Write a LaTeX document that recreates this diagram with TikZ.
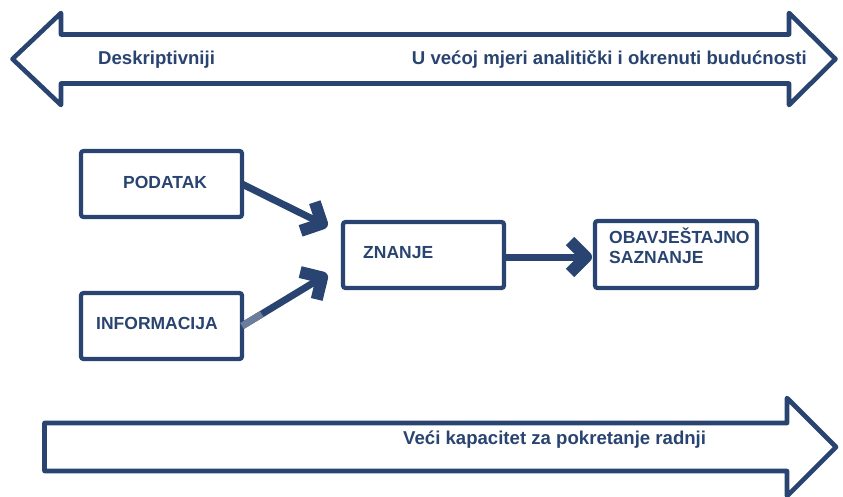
\documentclass[tikz,border=0pt]{standalone}
\usepackage{fontspec}
\setmainfont{Liberation Sans}
\usetikzlibrary{calc,decorations.markings}
\definecolor{navy}{RGB}{41,68,112}
\definecolor{paleseg}{RGB}{108,126,156}
\tikzset{
  bigarrow/.style={draw=navy,line width=4.6pt,line join=round,fill=white},
  boxnode/.style={draw=navy,line width=4.2pt,rounded corners=2.5pt,minimum width=161pt,minimum height=66pt,inner sep=0pt,outer sep=0pt},
  arrowlbl/.style={text=navy,font=\bfseries\fontsize{18.6}{21}\selectfont,inner sep=0pt},
  boxlbl/.style={text=navy,font=\bfseries\fontsize{17.5}{20}\selectfont,inner sep=0pt,align=left},
  chevron/.style={draw=navy,line width=12pt,line cap=butt,line join=round,shorten >=0pt},
  flow/.style={draw=navy,line width=7pt,shorten >=5pt,
    postaction={decorate,decoration={markings,mark=at position 1 with {\draw[chevron] (-22pt,16pt) -- (-6pt,0pt) -- (-22pt,-16pt);}}}}
}
\begin{document}
\begin{tikzpicture}[x=1pt,y=-1pt]
\useasboundingbox (0,0) rectangle (843,496);
% top double arrow
\draw[bigarrow] (12.5,59) -- (61,13) -- (61,34.5) -- (789,34.5) -- (789,13) -- (835.5,59)
  -- (789,105) -- (789,83.5) -- (61,83.5) -- (61,105) -- cycle;
\node[arrowlbl,anchor=base west] (desk) at (98,64) {Deskriptivniji};
\node[arrowlbl,anchor=base east] (anal) at (807,64) {U većoj mjeri analitički i okrenuti budućnosti};
% bottom arrow
\draw[bigarrow] (44.5,423) -- (787,423) -- (787,398) -- (836,447) -- (787,496) -- (787,471) -- (44.5,471) -- cycle;
\node[arrowlbl,anchor=base west] (kap) at (403,444) {Veći kapacitet za pokretanje radnji};
% boxes
\node[boxnode] (podatak) at (161.5,184) {};
\node[boxnode] (informacija) at (161.5,326) {};
\node[boxnode] (znanje) at (423.5,255) {};
\node[boxnode,minimum width=162pt,minimum height=67pt] (obav) at (676,254.5) {};
\node[boxlbl,anchor=base west] (tpod) at (123,188) {PODATAK};
\node[boxlbl,anchor=base west] (tinf) at (96,329) {INFORMACIJA};
\node[boxlbl,anchor=base west] (tzn) at (363,258.5) {ZNANJE};
\node[boxlbl,anchor=base west] (tob1) at (609,243.3) {OBAVJEŠTAJNO};
\node[boxlbl,anchor=base west] (tob2) at (609,263.3) {SAZNANJE};
% connectors
\coordinate (t1) at ($(znanje.north west)+(-2,11)$);
\coordinate (t2) at ($(znanje.south west)+(-2,-22)$);
\coordinate (e1) at ($(t1)!15pt!(podatak.east)$);
\coordinate (e2) at ($(t2)!16pt!(informacija.east)$);
\coordinate (e3) at ($([yshift=-2pt]znanje.east -| obav.west)+(-3,0)$);
\draw[flow] (podatak.east) -- (e1);
\draw[flow] (informacija.east) -- (e2);
\draw[draw=paleseg,line width=7pt] (informacija.east) -- ($(informacija.east)!0.2!(t2)$);
\draw[flow] ([yshift=-2pt]znanje.east) -- (e3);
\end{tikzpicture}
\end{document}
